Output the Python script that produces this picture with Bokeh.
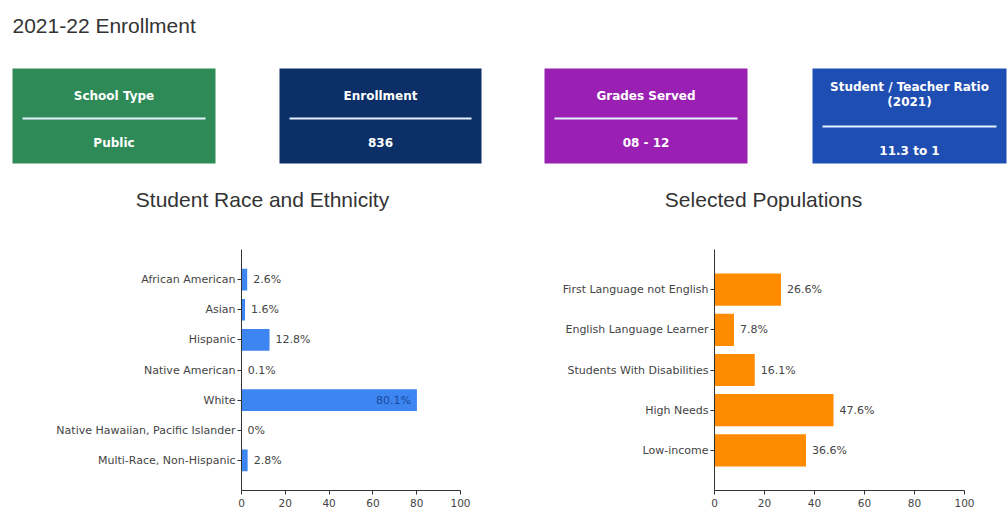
from bokeh.plotting import figure
from bokeh.layouts import column, row
from bokeh.models import Range1d, FixedTicker
from bokeh.core.properties import value
from bokeh.embed import file_html
from bokeh.resources import INLINE

# ---------------- data ----------------
page_title = "2021-22 Enrollment"
card_titles = ["School Type", "Enrollment", "Grades Served", "Student / Teacher Ratio\n(2021)"]
card_values = ["Public", "836", "08 - 12", "11.3 to 1"]
card_colors = ["#2e8a57", "#0b2f66", "#9a1fb3", "#1f4eb2"]

race_title = "Student Race and Ethnicity"
race_cats = ["African American", "Asian", "Hispanic", "Native American", "White",
             "Native Hawaiian, Pacific Islander", "Multi-Race, Non-Hispanic"]
race_vals = [2.6, 1.6, 12.8, 0.1, 80.1, 0, 2.8]

pop_title = "Selected Populations"
pop_cats = ["First Language not English", "English Language Learner",
            "Students With Disabilities", "High Needs", "Low-income"]
pop_vals = [26.6, 7.8, 16.1, 47.6, 36.6]

x_ticks = [0, 20, 40, 60, 80, 100]

FONT = "Liberation Sans"
SMALL_FONT = "DejaVu Sans"
CARD_FONT = "DejaVu Sans"

# ---------------- header ----------------
H_HEAD = 220
head = figure(width=1008, height=H_HEAD, x_range=Range1d(0, 1008), y_range=Range1d(H_HEAD, 0),
              output_backend="svg", toolbar_location=None, min_border=0)
head.axis.visible = False
head.grid.visible = False
head.outline_line_color = None

head.text(x=[12], y=[25], text=[page_title], text_font=value(FONT), text_font_size="21px",
          text_color="#333333", text_baseline="middle", text_align="left")

card_left = [12, 279, 544, 812]
card_right = [215, 481, 747, 1006]
card_top, card_bot = 68, 163
head.quad(left=card_left, right=card_right, top=[card_top] * 4, bottom=[card_bot] * 4,
          fill_color=card_colors, line_color=None)
for i in range(4):
    cx = (card_left[i] + card_right[i]) / 2
    two = "\n" in card_titles[i]
    ty = 94 if two else 95
    ly = 126 if two else 118
    vy = 150 if two else 142
    head.text(x=[cx], y=[ty], text=[card_titles[i]], text_font=value(CARD_FONT),
              text_font_size="12px", text_font_style="bold", text_color="#ffffff",
              text_align="center", text_baseline="middle", text_line_height=1.05)
    head.segment(x0=[card_left[i] + 10], x1=[card_right[i] - 10], y0=[ly], y1=[ly],
                 line_color="#e6f2ff", line_width=2)
    head.text(x=[cx], y=[vy], text=[card_values[i]], text_font=value(CARD_FONT),
              text_font_size="12px", text_font_style="bold", text_color="#ffffff",
              text_align="center", text_baseline="middle")

head.text(x=[262, 763], y=[199, 199], text=[race_title, pop_title], text_font=value(FONT),
          text_font_size="21px", text_color="#333333", text_align="center", text_baseline="middle")


def bar_chart(cats, vals, color, left, right, bar_h, inside_idx=None):
    n = len(cats)
    ys = list(range(1, n + 1))
    p = figure(width=504, height=512 - H_HEAD, x_range=Range1d(0, 100), y_range=Range1d(n + 1, 0),
               output_backend="svg", toolbar_location=None,
               min_border_left=left, min_border_right=504 - right,
               min_border_top=249 - H_HEAD, min_border_bottom=22)
    p.outline_line_color = None
    p.grid.visible = False
    p.hbar(y=ys, left=0, right=vals, height=bar_h, fill_color=color, line_color=None)
    out_x, out_y, out_t = [], [], []
    in_x, in_y, in_t = [], [], []
    for i, v in enumerate(vals):
        lab = ("%g" % v) + "%"
        if i == inside_idx:
            in_x.append(v); in_y.append(ys[i]); in_t.append(lab)
        else:
            out_x.append(v); out_y.append(ys[i]); out_t.append(lab)
    p.text(x=out_x, y=out_y, text=out_t, x_offset=6, text_font=value(SMALL_FONT), text_font_size="11px",
           text_color="#444444", text_baseline="middle", text_align="left")
    if in_x:
        p.text(x=in_x, y=in_y, text=in_t, x_offset=-6, text_font=value(SMALL_FONT), text_font_size="11px",
               text_color="#1a4aa0", text_baseline="middle", text_align="right")
    p.xaxis.ticker = FixedTicker(ticks=x_ticks)
    p.yaxis.ticker = FixedTicker(ticks=ys)
    p.yaxis.major_label_overrides = {y: c for y, c in zip(ys, cats)}
    for ax in (p.xaxis, p.yaxis):
        ax.axis_line_color = "#333333"
        ax.major_tick_line_color = "#333333"
        ax.minor_tick_line_color = None
        ax.major_tick_in = 0
        ax.major_tick_out = 4
        ax.major_label_text_font = SMALL_FONT
        ax.major_label_text_font_size = "11px"
        ax.major_label_text_color = "#444444"
        ax.major_label_standoff = 2
    p.xaxis.major_label_standoff = 4
    p.xaxis.major_label_text_font_size = "10.5px"
    return p


left_fig = bar_chart(race_cats, race_vals, "#3d85f0", 241, 460, 0.72, inside_idx=4)
right_fig = bar_chart(pop_cats, pop_vals, "#ff8c00", 210, 460, 0.8)
# right chart sits in second half: axis at x=714 -> 714-504 = 210, 100 at 964 -> 460

page = column(head, row(left_fig, right_fig, spacing=0), spacing=0)
open("out.html", "w").write(file_html(page, INLINE))
